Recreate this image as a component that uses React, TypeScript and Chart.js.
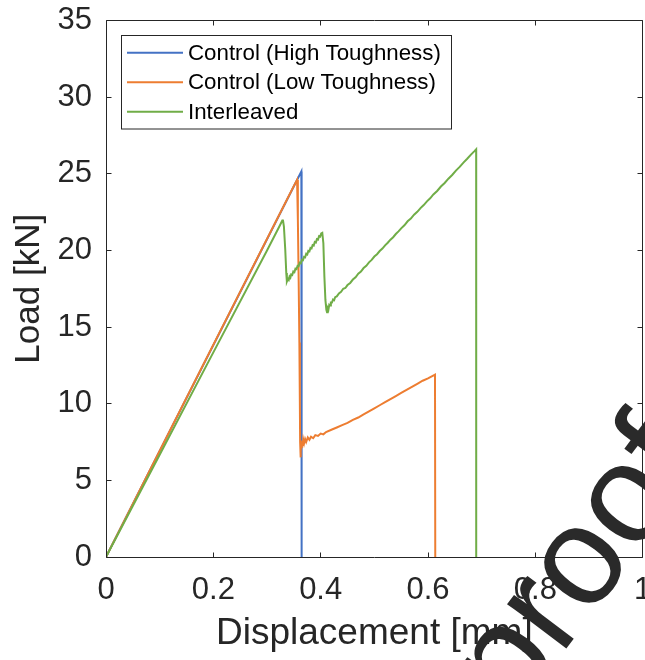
import React, { useEffect, useRef } from "react";
import { Chart, registerables } from "chart.js";

Chart.register(...registerables);

// Load–displacement curves (displacement in mm, load in kN)
const highX = [0, 0.2, 0.364, 0.3645];
const highY = [0, 13.82, 25.15, 0];

const lowX = [
  0, 0.2, 0.35, 0.356, 0.3575, 0.359, 0.3603, 0.3612, 0.3617, 0.3622, 0.3627,
  0.3633, 0.364, 0.3648, 0.3656, 0.3664, 0.3675, 0.369, 0.371, 0.373, 0.376,
  0.379, 0.382, 0.386, 0.39, 0.395, 0.4, 0.405, 0.41, 0.42, 0.43, 0.44, 0.45,
  0.46, 0.47, 0.48, 0.49, 0.5, 0.51, 0.52, 0.53, 0.54, 0.55, 0.56, 0.57, 0.58,
  0.59, 0.6, 0.613, 0.6135,
];
const lowY = [
  0, 13.85, 24.2, 24.6, 22.0, 18.0, 14.0, 10.0, 7.5, 6.5, 7.4, 6.9, 7.5, 7.1,
  7.6, 7.25, 7.65, 7.4, 7.7, 7.5, 7.8, 7.65, 7.85, 7.75, 7.95, 7.9, 8.05, 8.0,
  8.15, 8.3, 8.45, 8.6, 8.75, 8.95, 9.1, 9.3, 9.5, 9.7, 9.9, 10.1, 10.3, 10.5,
  10.7, 10.9, 11.1, 11.3, 11.5, 11.65, 11.9, 0,
];

const intX = [
  0, 0.1, 0.2, 0.3, 0.322, 0.3285, 0.3296, 0.3315, 0.334, 0.3359, 0.337,
  0.339, 0.3405, 0.342, 0.3435, 0.345, 0.347, 0.349, 0.351, 0.353, 0.355,
  0.357, 0.359, 0.361, 0.363, 0.365, 0.367, 0.369, 0.371, 0.373, 0.375, 0.377,
  0.379, 0.381, 0.383, 0.385, 0.387, 0.389, 0.391, 0.393, 0.395, 0.397, 0.399,
  0.401, 0.403, 0.405, 0.4069, 0.4088, 0.4106, 0.4118, 0.413, 0.4145, 0.416,
  0.4175, 0.419, 0.421, 0.423, 0.425, 0.427, 0.43, 0.434, 0.438, 0.442, 0.446,
  0.45, 0.455, 0.46, 0.465, 0.47, 0.475, 0.48, 0.485, 0.49, 0.495, 0.5, 0.505,
  0.51, 0.515, 0.52, 0.525, 0.53, 0.535, 0.54, 0.545, 0.55, 0.556, 0.562,
  0.568, 0.574, 0.58, 0.586, 0.592, 0.598, 0.604, 0.61, 0.617, 0.624, 0.631,
  0.638, 0.645, 0.652, 0.659, 0.666, 0.673, 0.68, 0.6865, 0.6897, 0.6898,
];
const intY = [
  0, 6.67, 13.35, 20.0, 21.5, 21.95, 22.0, 21.56, 20.04, 18.52, 17.97, 18.15,
  18.08, 18.29, 18.22, 18.43, 18.39, 18.62, 18.58, 18.81, 18.78, 19.0, 18.97,
  19.2, 19.16, 19.39, 19.36, 19.58, 19.55, 19.78, 19.74, 19.97, 19.94, 20.16,
  20.13, 20.35, 20.32, 20.55, 20.51, 20.74, 20.71, 20.93, 20.9, 21.11, 21.15,
  20.47, 18.3, 16.77, 16.12, 15.97, 16.25, 16.15, 16.45, 16.4, 16.6, 16.6,
  16.8, 16.75, 16.95, 17.0, 17.2, 17.3, 17.5, 17.55, 17.74, 17.88, 18.1, 18.25,
  18.48, 18.62, 18.85, 19.0, 19.22, 19.38, 19.6, 19.75, 19.96, 20.12, 20.33,
  20.5, 20.7, 20.86, 21.07, 21.24, 21.44, 21.64, 21.9, 22.08, 22.33, 22.52,
  22.76, 22.96, 23.2, 23.4, 23.65, 23.88, 24.17, 24.4, 24.68, 24.92, 25.21,
  25.45, 25.73, 25.98, 26.25, 26.48, 26.6, 0,
];

const seriesNames = [
  "Control (High Toughness)",
  "Control (Low Toughness)",
  "Interleaved",
];
const seriesColors = ["#4472C4", "#ED7D31", "#70AD47"];

const xTicks = [0, 0.2, 0.4, 0.6, 0.8, 1];
const yTicks = [0, 5, 10, 15, 20, 25, 30, 35];
const xTitle = "Displacement [mm]";
const yTitle = "Load [kN]";
const stampText = "proof";

const FONT = '"Liberation Sans", Arial, sans-serif';
const AXIS_COLOR = "#262626";

const zip = (xs: number[], ys: number[]) => xs.map((x, i) => ({ x, y: ys[i] }));

const crisp = (v: number) => Math.floor(v) + 0.5;

// Full box around the plot with tick marks pointing inward on all four sides
const boxPlugin = {
  id: "boxTicks",
  afterDatasetsDraw(chart: any) {
    const { ctx, chartArea } = chart;
    const l = crisp(chartArea.left);
    const r = crisp(chartArea.right);
    const t = crisp(chartArea.top);
    const b = crisp(chartArea.bottom);
    const len = 5;
    ctx.save();
    ctx.strokeStyle = AXIS_COLOR;
    ctx.lineWidth = 1;
    ctx.beginPath();
    ctx.rect(l, t, r - l, b - t);
    chart.scales.x.ticks.forEach((tk: any) => {
      const px = crisp(chart.scales.x.getPixelForValue(tk.value));
      ctx.moveTo(px, b);
      ctx.lineTo(px, b - len);
      ctx.moveTo(px, t);
      ctx.lineTo(px, t + len);
    });
    chart.scales.y.ticks.forEach((tk: any) => {
      const py = crisp(chart.scales.y.getPixelForValue(tk.value));
      ctx.moveTo(l, py);
      ctx.lineTo(l + len, py);
      ctx.moveTo(r, py);
      ctx.lineTo(r - len, py);
    });
    ctx.stroke();
    ctx.restore();
  },
};

// Boxed legend in the upper-left corner of the plot
const legendPlugin = {
  id: "boxedLegend",
  afterDatasetsDraw(chart: any) {
    const { ctx } = chart;
    const bx = 121.5;
    const by = 35.5;
    const bw = 330;
    const bh = 93.5;
    const rows = [52.7, 82.3, 111.7];
    ctx.save();
    ctx.fillStyle = "#ffffff";
    ctx.fillRect(bx, by, bw, bh);
    ctx.strokeStyle = AXIS_COLOR;
    ctx.lineWidth = 1;
    ctx.strokeRect(bx, by, bw, bh);
    ctx.font = `22.3px ${FONT}`;
    ctx.textBaseline = "middle";
    ctx.textAlign = "left";
    chart.data.datasets.forEach((ds: any, i: number) => {
      const y = rows[i];
      ctx.strokeStyle = ds.borderColor;
      ctx.lineWidth = 2;
      ctx.beginPath();
      ctx.moveTo(127, y);
      ctx.lineTo(183, y);
      ctx.stroke();
      ctx.fillStyle = "#000000";
      ctx.fillText(ds.label, 188, y + 1);
    });
    ctx.restore();
  },
};

// Large rotated stamp text across the lower-right corner
const stampPlugin = {
  id: "stamp",
  afterDraw(chart: any) {
    const { ctx } = chart;
    const size = 140;
    ctx.save();
    ctx.font = `${size}px ${FONT}`;
    const lead = ctx.measureText(stampText.slice(0, 2)).width;
    const oW = ctx.measureText("o").width;
    ctx.translate(583, 566);
    ctx.rotate((-53 * Math.PI) / 180);
    ctx.fillStyle = "#2a2a2a";
    ctx.textBaseline = "alphabetic";
    ctx.textAlign = "left";
    ctx.fillText(stampText, -(lead + oW / 2), size * 0.26);
    ctx.restore();
  },
};

const fmtTick = (v: number) => (v === 0 || v === 1 ? String(v) : v.toFixed(1));

export default function App() {
  const canvasRef = useRef<HTMLCanvasElement | null>(null);

  useEffect(() => {
    const canvas = canvasRef.current;
    if (!canvas) return;
    const sets = [
      [highX, highY],
      [lowX, lowY],
      [intX, intY],
    ];
    const chart = new Chart(canvas, {
      type: "line",
      data: {
        datasets: sets.map(([xs, ys], i) => ({
          label: seriesNames[i],
          data: zip(xs, ys),
          borderColor: seriesColors[i],
          backgroundColor: seriesColors[i],
          borderWidth: 2,
          pointRadius: 0,
          tension: 0,
          fill: false,
          order: 3 - i,
        })),
      },
      options: {
        animation: false,
        responsive: false,
        maintainAspectRatio: false,
        devicePixelRatio: 1,
        events: [],
        layout: { padding: { top: 20.5, right: 2.3, left: 0, bottom: 0 } },
        scales: {
          x: {
            type: "linear",
            min: 0,
            max: 1,
            afterBuildTicks: (s: any) => {
              s.ticks = xTicks.map((v) => ({ value: v }));
            },
            afterFit: (s: any) => {
              s.height = 103;
              s.paddingLeft = 0;
              s.paddingRight = 0;
            },
            grid: { display: false, drawTicks: false },
            border: { display: false },
            ticks: {
              padding: 15,
              color: AXIS_COLOR,
              font: { family: FONT, size: 31 },
              maxRotation: 0,
              autoSkip: false,
              callback: (v: any) => fmtTick(Number(v)),
            },
            title: {
              display: true,
              text: xTitle,
              color: AXIS_COLOR,
              font: { family: FONT, size: 37 },
              padding: { top: 0, bottom: 4 },
            },
          },
          y: {
            type: "linear",
            min: 0,
            max: 35,
            afterBuildTicks: (s: any) => {
              s.ticks = yTicks.map((v) => ({ value: v }));
            },
            afterFit: (s: any) => {
              s.width = 106;
              s.paddingTop = 0;
              s.paddingBottom = 0;
            },
            grid: { display: false, drawTicks: false },
            border: { display: false },
            ticks: {
              padding: 14,
              color: AXIS_COLOR,
              font: { family: FONT, size: 31 },
              autoSkip: false,
              callback: (v: any) => String(v),
            },
            title: {
              display: true,
              text: yTitle,
              color: AXIS_COLOR,
              font: { family: FONT, size: 35 },
              padding: { top: 8, bottom: 0 },
            },
          },
        },
        plugins: {
          legend: { display: false },
          tooltip: { enabled: false },
        },
      },
      plugins: [boxPlugin, legendPlugin, stampPlugin],
    } as any);
    return () => chart.destroy();
  }, []);

  return (
    <div
      style={{
        position: "absolute",
        left: 0,
        top: 0,
        width: 645,
        height: 660,
        background: "#ffffff",
      }}
    >
      <canvas ref={canvasRef} width={645} height={660} style={{ display: "block" }} />
    </div>
  );
}
